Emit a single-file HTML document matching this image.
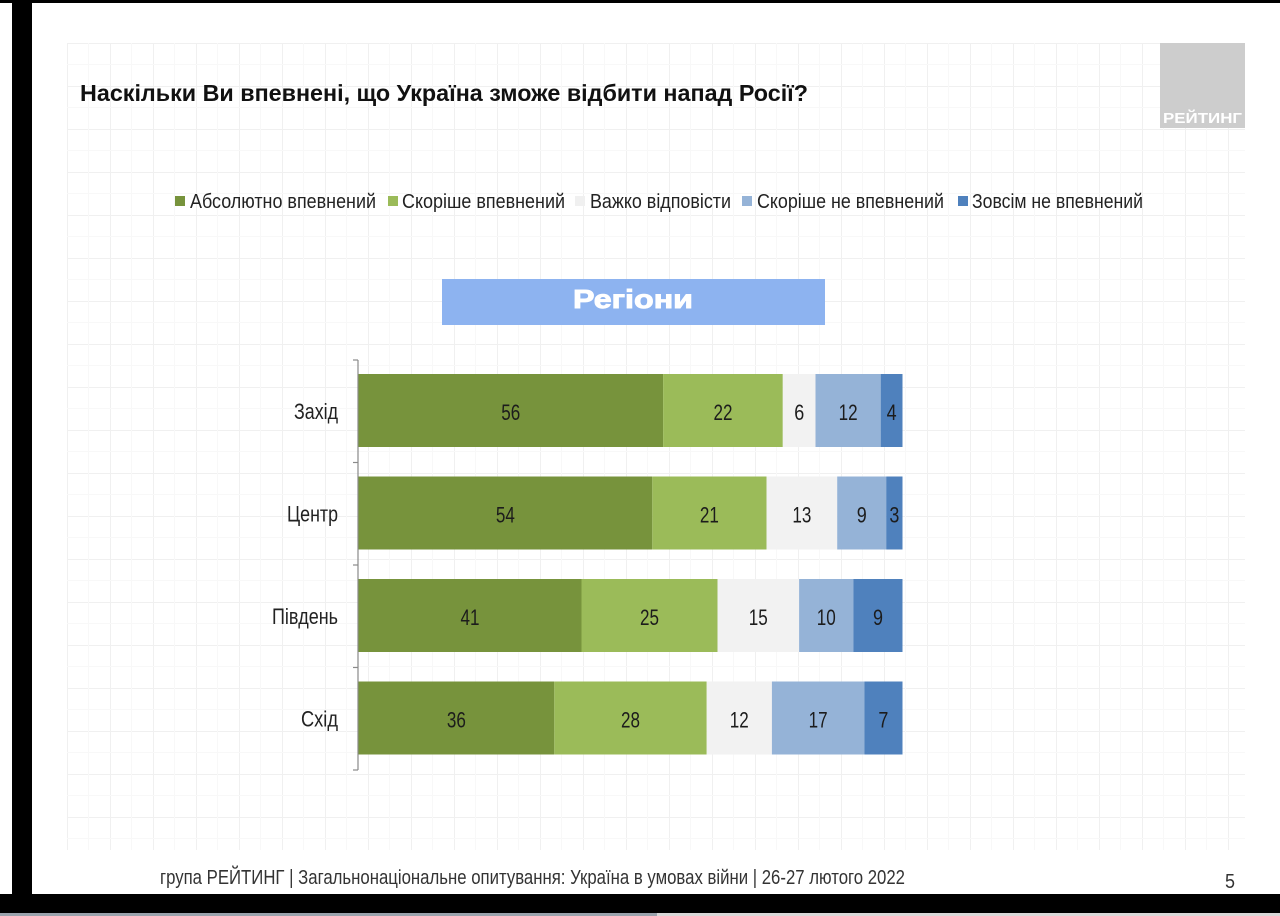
<!DOCTYPE html>
<html><head><meta charset="utf-8"><style>
html,body{margin:0;padding:0;background:#fff;}
svg{display:block;}
text{font-family:"Liberation Sans","DejaVu Sans",sans-serif;}
</style></head><body>
<svg width="1280" height="916" viewBox="0 0 1280 916" xmlns="http://www.w3.org/2000/svg">
<defs>
<pattern id="g" x="67" y="43" width="43" height="43" patternUnits="userSpaceOnUse">
<path d="M0 0.5H43M0.5 0V43" stroke="#f0f0f0" stroke-width="1" fill="none"/>
<path d="M0 21.5H43M21.5 0V43" stroke="#f8f8f8" stroke-width="1" fill="none"/>
</pattern>
</defs>
<rect width="1280" height="916" fill="#fff"/>
<rect x="67" y="43" width="1178" height="807" fill="url(#g)"/>
<!-- frame -->
<rect x="0" y="0" width="1280" height="3" fill="#000"/>
<rect x="12" y="0" width="20" height="894" fill="#000"/>
<rect x="0" y="894" width="1280" height="19" fill="#000"/>
<rect x="0" y="913" width="657" height="3" fill="#9aa3ad"/>
<rect x="657" y="913" width="623" height="3" fill="#d8d8d8"/>
<!-- logo -->
<rect x="1160" y="43" width="85" height="85" fill="#cdcdcd"/>
<text x="1163" y="123" font-size="15" font-weight="bold" fill="#fff" textLength="79" lengthAdjust="spacingAndGlyphs">РЕЙТИНГ</text>
<!-- title -->
<text x="80" y="101" font-size="23" font-weight="bold" fill="#111" textLength="728" lengthAdjust="spacingAndGlyphs">Наскільки Ви впевнені, що Україна зможе відбити напад Росії?</text>
<!-- legend -->
<g font-size="20" fill="#222">
<rect x="175" y="196" width="10" height="10" fill="#77933c"/>
<text x="190" y="208" textLength="186" lengthAdjust="spacingAndGlyphs">Абсолютно впевнений</text>
<rect x="388" y="196" width="10" height="10" fill="#9bbb59"/>
<text x="402" y="208" textLength="163" lengthAdjust="spacingAndGlyphs">Скоріше впевнений</text>
<rect x="575" y="196" width="10" height="10" fill="#f0f0f0"/>
<text x="590" y="208" textLength="141" lengthAdjust="spacingAndGlyphs">Важко відповісти</text>
<rect x="742" y="196" width="10" height="10" fill="#95b3d7"/>
<text x="757" y="208" textLength="187" lengthAdjust="spacingAndGlyphs">Скоріше не впевнений</text>
<rect x="958" y="196" width="10" height="10" fill="#4f81bd"/>
<text x="972" y="208" textLength="171" lengthAdjust="spacingAndGlyphs">Зовсім не впевнений</text>
</g>
<!-- banner -->
<rect x="442" y="279" width="383" height="46" fill="#8db3f0"/>
<text x="573" y="308" font-family="DejaVu Sans, Liberation Sans, sans-serif" font-size="26" font-weight="bold" fill="#fff" stroke="#fff" stroke-width="0.9" textLength="120" lengthAdjust="spacingAndGlyphs">Регіони</text>
<!-- axis -->
<g stroke="#8a8a8a" stroke-width="1.2">
<line x1="358" y1="360" x2="358" y2="770"/>
<line x1="353" y1="360" x2="358" y2="360"/>
<line x1="353" y1="462.5" x2="358" y2="462.5"/>
<line x1="353" y1="565" x2="358" y2="565"/>
<line x1="353" y1="667.5" x2="358" y2="667.5"/>
<line x1="353" y1="770" x2="358" y2="770"/>
</g>
<!-- bars -->
<g>
<rect x="358.5" y="374" width="304.6" height="73" fill="#77933c"/>
<rect x="663.1" y="374" width="119.7" height="73" fill="#9bbb59"/>
<rect x="782.8" y="374" width="32.7" height="73" fill="#f2f2f2"/>
<rect x="815.5" y="374" width="65.2" height="73" fill="#95b3d7"/>
<rect x="880.7" y="374" width="21.8" height="73" fill="#4f81bd"/>

<rect x="358.5" y="476.5" width="293.8" height="73" fill="#77933c"/>
<rect x="652.3" y="476.5" width="114.2" height="73" fill="#9bbb59"/>
<rect x="766.5" y="476.5" width="70.7" height="73" fill="#f2f2f2"/>
<rect x="837.2" y="476.5" width="49" height="73" fill="#95b3d7"/>
<rect x="886.2" y="476.5" width="16.3" height="73" fill="#4f81bd"/>

<rect x="358.5" y="579" width="223" height="73" fill="#77933c"/>
<rect x="581.5" y="579" width="136" height="73" fill="#9bbb59"/>
<rect x="717.5" y="579" width="81.6" height="73" fill="#f2f2f2"/>
<rect x="799.1" y="579" width="54.4" height="73" fill="#95b3d7"/>
<rect x="853.5" y="579" width="49" height="73" fill="#4f81bd"/>

<rect x="358.5" y="681.5" width="195.8" height="73" fill="#77933c"/>
<rect x="554.3" y="681.5" width="152.4" height="73" fill="#9bbb59"/>
<rect x="706.7" y="681.5" width="65.2" height="73" fill="#f2f2f2"/>
<rect x="771.9" y="681.5" width="92.5" height="73" fill="#95b3d7"/>
<rect x="864.4" y="681.5" width="38.1" height="73" fill="#4f81bd"/>
</g>
<!-- category labels -->
<g font-size="22" fill="#222" text-anchor="end">
<text x="338" y="419" textLength="44" lengthAdjust="spacingAndGlyphs">Захід</text>
<text x="338" y="521.5" textLength="51" lengthAdjust="spacingAndGlyphs">Центр</text>
<text x="338" y="624" textLength="66" lengthAdjust="spacingAndGlyphs">Південь</text>
<text x="338" y="726.5" textLength="37" lengthAdjust="spacingAndGlyphs">Схід</text>
</g>
<!-- values -->
<g font-size="22" fill="#1c1c1c" text-anchor="middle">
<text x="510.8" y="420" textLength="19" lengthAdjust="spacingAndGlyphs">56</text>
<text x="723" y="420" textLength="19" lengthAdjust="spacingAndGlyphs">22</text>
<text x="799.2" y="420" textLength="10" lengthAdjust="spacingAndGlyphs">6</text>
<text x="848.1" y="420" textLength="19" lengthAdjust="spacingAndGlyphs">12</text>
<text x="891.6" y="420" textLength="10" lengthAdjust="spacingAndGlyphs">4</text>

<text x="505.4" y="522.5" textLength="19" lengthAdjust="spacingAndGlyphs">54</text>
<text x="709.4" y="522.5" textLength="19" lengthAdjust="spacingAndGlyphs">21</text>
<text x="801.9" y="522.5" textLength="19" lengthAdjust="spacingAndGlyphs">13</text>
<text x="861.7" y="522.5" textLength="10" lengthAdjust="spacingAndGlyphs">9</text>
<text x="894.4" y="522.5" textLength="10" lengthAdjust="spacingAndGlyphs">3</text>

<text x="470" y="625" textLength="19" lengthAdjust="spacingAndGlyphs">41</text>
<text x="649.5" y="625" textLength="19" lengthAdjust="spacingAndGlyphs">25</text>
<text x="758.3" y="625" textLength="19" lengthAdjust="spacingAndGlyphs">15</text>
<text x="826.3" y="625" textLength="19" lengthAdjust="spacingAndGlyphs">10</text>
<text x="878" y="625" textLength="10" lengthAdjust="spacingAndGlyphs">9</text>

<text x="456.4" y="727.5" textLength="19" lengthAdjust="spacingAndGlyphs">36</text>
<text x="630.5" y="727.5" textLength="19" lengthAdjust="spacingAndGlyphs">28</text>
<text x="739.3" y="727.5" textLength="19" lengthAdjust="spacingAndGlyphs">12</text>
<text x="818.1" y="727.5" textLength="19" lengthAdjust="spacingAndGlyphs">17</text>
<text x="883.4" y="727.5" textLength="10" lengthAdjust="spacingAndGlyphs">7</text>
</g>
<!-- footer -->
<text x="160" y="884" font-size="20" fill="#333" textLength="745" lengthAdjust="spacingAndGlyphs">група РЕЙТИНГ | Загальнонаціональне опитування: Україна в умовах війни | 26-27 лютого 2022</text>
<text x="1225" y="888" font-size="20" fill="#333" textLength="10" lengthAdjust="spacingAndGlyphs">5</text>
</svg>
</body></html>
